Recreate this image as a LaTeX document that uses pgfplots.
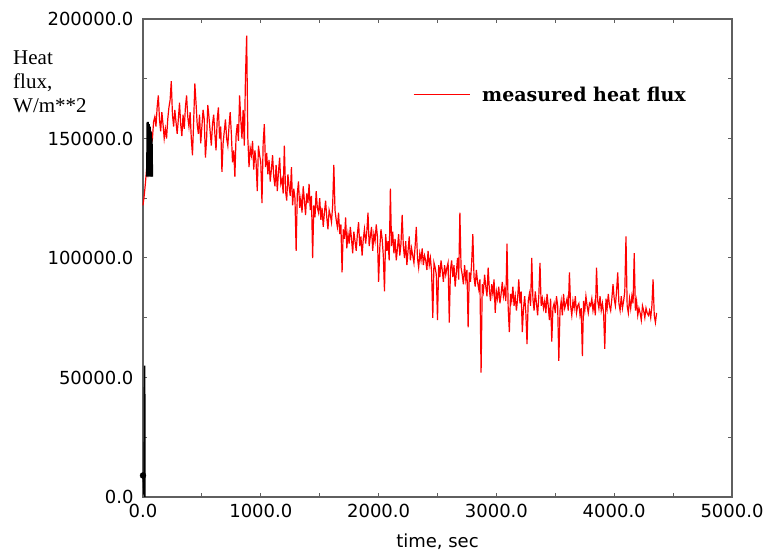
\documentclass[border=0pt]{standalone}
\usepackage{fontspec}
\usepackage{pgfplots}
\pgfplotsset{compat=1.18}
\newfontfamily\tickfont{DejaVu Sans}
\newfontfamily\labfont{Liberation Serif}
\newfontfamily\legfont{DejaVu Serif}
\definecolor{axgray}{RGB}{95,95,95}
\begin{document}
\begin{tikzpicture}
\useasboundingbox (0pt,0pt) rectangle (764pt,557pt);
\begin{axis}[
  at={(143pt,60pt)}, anchor=south west,
  width=589pt, height=478pt, scale only axis,
  xmin=0, xmax=5000, ymin=0, ymax=200000,
  xtick={0,1000,2000,3000,4000,5000},
  ytick={0,50000,100000,150000,200000},
  minor x tick num=1, minor y tick num=1,
  scaled ticks=false,
  tick align=inside,
  major tick length=4pt, minor tick length=4pt,
  axis line style={axgray, line width=1.2pt},
  every tick/.style={axgray, line width=1pt},
  clip=false,
  /pgf/number format/fixed,
  /pgf/number format/fixed zerofill,
  /pgf/number format/precision=1,
  /pgf/number format/1000 sep={},
  /pgf/number format/assume math mode=true,
  tick label style={font=\tickfont\fontsize{18}{20}\selectfont, black},
  xticklabel style={yshift=-4pt},
  yticklabel style={xshift=-6pt},
  xlabel={time, sec},
  every axis x label/.style={at={(axis description cs:0.5,-0.077)}, anchor=north, inner sep=0pt, font=\tickfont\fontsize{18}{20}\selectfont},
  ylabel={Heat\\flux,\\W/m**2},
  every axis y label/.style={at={(axis description cs:-0.2207,0.935)}, anchor=north west, inner sep=0pt, align=left, font=\labfont\fontsize{21}{24}\selectfont},
  legend style={at={(axis description cs:0.4584,0.841)}, anchor=west, draw=none, fill=none, inner sep=0pt, font=\legfont\bfseries\fontsize{19}{22}\selectfont,
    /tikz/every odd column/.append style={column sep=10pt}},
  legend cell align=left,
  legend image code/.code={\draw[#1, line width=1pt] (0pt,0pt) -- (56pt,0pt);},
]
\addplot[red, line width=1.2pt] coordinates {
(0,122000) (10,126000) (20,131000) (30,137000) (40,135000) (50,141000) (60,148000) (70,152000) (80,150000) (90,157000)
(100,159000) (110,155000) (120,163000) (130,168000) (140,158000) (150,153000) (160,161000) (170,156000) (180,150000) (190,154000)
(200,150000) (210,158000) (220,163000) (230,166000) (240,174000) (250,160000) (260,155000) (270,162000) (280,157000) (290,152000)
(300,158000) (310,165000) (320,156000) (330,151000) (340,160000) (350,154000) (360,163000) (370,168000) (380,159000) (390,155000)
(400,161000) (410,150000) (420,143000) (430,157000) (440,173000) (450,165000) (460,156000) (470,152000) (480,160000) (490,148000)
(500,155000) (510,162000) (520,158000) (530,142000) (540,150000) (550,164000) (560,159000) (570,153000) (580,147000) (590,156000)
(600,160000) (610,152000) (620,145000) (630,158000) (640,163000) (650,150000) (660,155000) (670,136000) (680,148000) (690,153000)
(700,158000) (710,150000) (720,147000) (730,155000) (740,161000) (750,152000) (760,140000) (770,145000) (780,134000) (790,151000)
(800,156000) (810,149000) (820,168000) (830,158000) (840,150000) (850,162000) (860,147000) (870,176000) (880,193000) (890,150000)
(900,138000) (910,146000) (920,143000) (930,149000) (940,137000) (950,145000) (960,140000) (970,128000) (980,147000) (990,143000)
(1000,140000) (1010,123000) (1020,148000) (1030,156000) (1040,138000) (1050,144000) (1060,135000) (1070,141000) (1080,132000) (1090,137000)
(1100,143000) (1110,134000) (1120,130000) (1130,139000) (1140,128000) (1150,136000) (1160,142000) (1170,131000) (1180,133000) (1190,127000)
(1200,147000) (1210,128000) (1220,124000) (1230,135000) (1240,130000) (1250,126000) (1260,138000) (1270,122000) (1280,129000) (1290,125000)
(1300,103000) (1310,127000) (1320,132000) (1330,121000) (1340,125000) (1350,119000) (1360,130000) (1370,124000) (1380,118000) (1390,127000)
(1400,123000) (1410,131000) (1420,120000) (1430,126000) (1440,100000) (1450,122000) (1460,117000) (1470,128000) (1480,121000) (1490,119000)
(1500,125000) (1510,116000) (1520,121000) (1530,113000) (1540,119000) (1550,124000) (1560,117000) (1570,112000) (1580,120000) (1590,118000)
(1600,115000) (1610,122000) (1620,139000) (1630,120000) (1640,116000) (1650,113000) (1660,119000) (1670,110000) (1680,114000) (1690,94000)
(1700,112000) (1710,108000) (1720,117000) (1730,104000) (1740,110000) (1750,106000) (1760,113000) (1770,108000) (1780,102000) (1790,111000)
(1800,107000) (1810,103000) (1820,110000) (1830,115000) (1840,105000) (1850,109000) (1860,101000) (1870,108000) (1880,112000) (1890,106000)
(1900,111000) (1910,119000) (1920,105000) (1930,109000) (1940,113000) (1950,103000) (1960,110000) (1970,107000) (1980,114000) (1990,109000)
(2000,90000) (2010,104000) (2020,112000) (2030,108000) (2040,101000) (2050,86000) (2060,110000) (2070,103000) (2080,107000) (2090,99000)
(2100,129000) (2110,105000) (2120,111000) (2130,102000) (2140,108000) (2150,99000) (2160,104000) (2170,110000) (2180,101000) (2190,106000)
(2200,118000) (2210,105000) (2220,100000) (2230,107000) (2240,97000) (2250,103000) (2260,109000) (2270,99000) (2280,104000) (2290,101000)
(2300,98000) (2310,105000) (2320,113000) (2330,100000) (2340,96000) (2350,102000) (2360,99000) (2370,104000) (2380,97000) (2390,101000)
(2400,99000) (2410,95000) (2420,103000) (2430,97000) (2440,100000) (2450,94000) (2460,75000) (2470,98000) (2480,96000) (2490,93000)
(2500,74000) (2510,97000) (2520,92000) (2530,99000) (2540,95000) (2550,90000) (2560,97000) (2570,93000) (2580,96000) (2590,98000)
(2600,73000) (2610,95000) (2620,99000) (2630,92000) (2640,97000) (2650,88000) (2660,94000) (2670,100000) (2680,91000) (2690,119000)
(2700,96000) (2710,93000) (2720,89000) (2730,97000) (2740,91000) (2750,95000) (2760,71000) (2770,94000) (2780,90000) (2790,98000)
(2800,110000) (2810,92000) (2820,88000) (2830,95000) (2840,90000) (2850,87000) (2860,91000) (2870,52000) (2880,89000) (2890,86000)
(2900,93000) (2910,88000) (2920,84000) (2930,96000) (2940,87000) (2950,82000) (2960,89000) (2970,85000) (2980,91000) (2990,77000)
(3000,86000) (3010,83000) (3020,88000) (3030,81000) (3040,85000) (3050,90000) (3060,84000) (3070,87000) (3080,82000) (3090,106000)
(3100,79000) (3110,69000) (3120,85000) (3130,82000) (3140,88000) (3150,80000) (3160,84000) (3170,78000) (3180,83000) (3190,91000)
(3200,81000) (3210,86000) (3220,69000) (3230,79000) (3240,84000) (3250,77000) (3260,64000) (3270,82000) (3280,85000) (3290,80000)
(3300,100000) (3310,83000) (3320,78000) (3330,86000) (3340,81000) (3350,76000) (3360,84000) (3370,98000) (3380,80000) (3390,83000)
(3400,79000) (3410,82000) (3420,77000) (3430,85000) (3440,80000) (3450,74000) (3460,83000) (3470,65000) (3480,79000) (3490,81000)
(3500,77000) (3510,84000) (3520,80000) (3530,57000) (3540,78000) (3550,82000) (3560,76000) (3570,85000) (3580,79000) (3590,81000)
(3600,83000) (3610,78000) (3620,94000) (3630,80000) (3640,76000) (3650,82000) (3660,79000) (3670,84000) (3680,77000) (3690,80000)
(3700,81000) (3710,76000) (3720,79000) (3730,59000) (3740,82000) (3750,78000) (3760,84000) (3770,80000) (3780,77000) (3790,81000)
(3800,80000) (3810,83000) (3820,78000) (3830,81000) (3840,76000) (3850,96000) (3860,82000) (3870,79000) (3880,84000) (3890,78000)
(3900,81000) (3910,77000) (3920,62000) (3930,83000) (3940,79000) (3950,85000) (3960,80000) (3970,78000) (3980,83000) (3990,89000)
(4000,83000) (4010,80000) (4020,86000) (4030,94000) (4040,81000) (4050,78000) (4060,84000) (4070,79000) (4080,82000) (4090,86000)
(4100,109000) (4110,80000) (4120,77000) (4130,83000) (4140,79000) (4150,84000) (4160,81000) (4170,102000) (4180,78000) (4190,82000)
(4200,76000) (4210,79000) (4220,77000) (4230,74000) (4240,80000) (4250,78000) (4260,75000) (4270,79000) (4280,77000) (4290,76000)
(4300,78000) (4310,75000) (4320,80000) (4330,91000) (4340,76000) (4350,73000) (4360,77000)
};
\addlegendentry{measured heat flux}
\addplot[black, line width=1.6pt, forget plot] coordinates {
(0,9000) (5,6000) (9,1000) (14,55000) (16,0)
};
\addplot[black, only marks, mark=*, mark size=3pt, forget plot] coordinates {(0,9000)};
\addplot[black, line width=2.4pt, forget plot] coordinates {
(36,134000) (40,157000) (44,135000) (48,156000) (52,134000) (56,155000) (60,136000) (64,153000) (68,134000) (72,150000) (76,134000)
};
\end{axis}
\end{tikzpicture}
\end{document}
